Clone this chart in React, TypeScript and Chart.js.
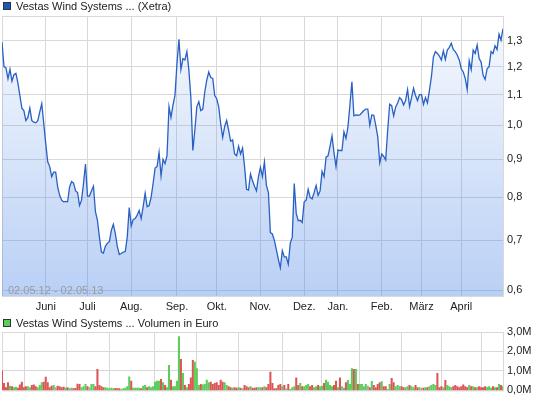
import React, { useEffect, useRef } from 'react';
import { Chart, registerables } from 'chart.js';

Chart.register(...registerables);

// ---- data ----
const prices: number[] = [
  1.295, 1.20, 1.195, 1.155, 1.19, 1.147, 1.17, 1.175, 1.14, 1.097,
  1.055, 1.047, 1.015, 1.025, 1.055, 1.015, 1.01, 1.008, 1.015, 1.043,
  1.07, 1.006, 0.945, 0.893, 0.88, 0.853, 0.865, 0.865, 0.826, 0.805,
  0.793, 0.789, 0.79, 0.789, 0.826, 0.84, 0.836, 0.816, 0.812, 0.78,
  0.793, 0.835, 0.887, 0.803, 0.803, 0.816, 0.828, 0.765, 0.745, 0.707,
  0.675, 0.673, 0.687, 0.694, 0.697, 0.722, 0.736, 0.715, 0.687, 0.670,
  0.672, 0.675, 0.676, 0.707, 0.775, 0.732, 0.747, 0.749, 0.757, 0.768,
  0.749, 0.777, 0.81, 0.777, 0.78, 0.80, 0.835, 0.876, 0.88, 0.92,
  0.855, 0.90, 0.888, 0.91, 1.06, 1.025, 1.065, 1.097, 1.21, 1.306,
  1.189, 1.23, 1.225, 1.257, 1.187, 1.09, 0.925, 0.985, 1.06, 1.076,
  1.047, 1.052, 1.11, 1.151, 1.18, 1.16, 1.157, 1.097, 1.086, 1.06,
  1.005, 0.963, 0.997, 1.015, 0.985, 0.952, 0.956, 0.915, 0.91, 0.937,
  0.915, 0.932, 0.88, 0.82, 0.818, 0.86, 0.842, 0.828, 0.816, 0.853,
  0.878, 0.853, 0.893, 0.83, 0.812, 0.717, 0.714, 0.70, 0.68, 0.66,
  0.643, 0.678, 0.665, 0.665, 0.65, 0.694, 0.707, 0.835, 0.761, 0.744,
  0.745, 0.74, 0.789, 0.793, 0.82, 0.80, 0.796, 0.812, 0.83, 0.805,
  0.816, 0.867, 0.853, 0.906, 0.91, 0.937, 0.968, 0.918, 0.88, 0.927,
  0.925, 0.925, 0.98, 0.96, 0.995, 1.065, 1.145, 1.03, 1.033, 1.032,
  1.033, 1.04, 1.047, 1.052, 1.052, 1.0, 1.033, 1.032, 1.0, 0.965,
  0.89, 0.915, 0.908, 0.898, 0.985, 1.068, 1.063, 1.03, 1.058, 1.072,
  1.09, 1.083, 1.065, 1.08, 1.117, 1.06, 1.09, 1.122, 1.097, 1.08,
  1.10, 1.10, 1.067, 1.09, 1.072, 1.115, 1.163, 1.237, 1.257, 1.25,
  1.24, 1.225, 1.26, 1.227, 1.263, 1.274, 1.29, 1.265, 1.257, 1.243,
  1.225, 1.192, 1.18, 1.157, 1.117, 1.222, 1.189, 1.263, 1.25, 1.283,
  1.23, 1.217, 1.168, 1.153, 1.192, 1.20, 1.257, 1.25, 1.28, 1.265,
  1.327, 1.303, 1.35,
];

// volume in millions of euro
const volumes: number[] = [
  1.0, 0.36, 0.14, 0.40, 0.22, 0.19, 0.15, 0.17, 0.12, 0.29,
  0.43, 0.14, 0.19, 0.19, 0.14, 0.26, 0.29, 0.19, 0.14, 0.26,
  0.40, 0.43, 0.69, 0.40, 0.14, 0.22, 0.26, 0.15, 0.22, 0.19,
  0.14, 0.17, 0.12, 0.15, 0.09, 0.12, 0.09, 0.10, 0.33, 0.31,
  0.15, 0.19, 0.31, 0.19, 0.15, 0.31, 0.31, 0.19, 1.08, 0.26,
  0.19, 0.14, 0.15, 0.12, 0.09, 0.12, 0.09, 0.10, 0.09, 0.09,
  0.05, 0.09, 0.12, 0.19, 0.70, 0.48, 0.12, 0.12, 0.12, 0.12,
  0.09, 0.22, 0.26, 0.14, 0.19, 0.14, 0.19, 0.43, 0.48, 0.48,
  0.57, 0.40, 0.26, 0.14, 1.29, 0.53, 0.19, 0.19, 0.48, 2.77,
  1.60, 0.88, 0.26, 0.14, 0.31, 0.65, 1.55, 1.46, 1.12, 0.26,
  0.31, 0.28, 0.31, 0.53, 0.40, 0.43, 0.31, 0.36, 0.40, 0.26,
  0.53, 0.43, 0.40, 0.26, 0.19, 0.14, 0.12, 0.15, 0.12, 0.15,
  0.12, 0.09, 0.26, 0.19, 0.15, 0.19, 0.12, 0.12, 0.14, 0.15,
  0.14, 0.15, 0.19, 0.14, 0.31, 0.94,
  0.36, 0.09, 0.09, 0.26, 0.31, 0.19, 0.26, 0.09, 0.31, 0.05,
  0.14, 0.19, 0.65, 0.26, 0.36, 0.19, 0.19, 0.26, 0.31, 0.19,
  0.26, 0.14, 0.19, 0.26, 0.19, 0.22, 0.36, 0.53, 0.43, 0.26,
  0.19, 0.26, 0.48, 0.14, 0.65, 0.19, 0.12, 0.40, 0.52, 0.31,
  1.12, 1.08, 1.08, 0.31, 0.31, 0.31, 0.19, 0.31, 0.22, 0.14,
  0.46, 0.26, 0.14, 0.31, 0.40, 0.45, 0.19, 0.19, 0.05, 0.31,
  0.62, 0.40, 0.19, 0.26, 0.19, 0.19, 0.14, 0.14, 0.19, 0.26,
  0.19, 0.14, 0.26, 0.14, 0.14, 0.12, 0.12, 0.14, 0.15, 0.19,
  0.26, 0.31, 0.26, 0.88, 0.14, 0.19, 0.14, 0.52, 0.26, 0.19,
  0.15, 0.19, 0.26, 0.19, 0.15, 0.19, 0.29, 0.19, 0.14, 0.26,
  0.19, 0.19, 0.14, 0.14, 0.19, 0.14, 0.15, 0.19, 0.14, 0.19,
  0.12, 0.19, 0.15, 0.14, 0.31, 0.26, 0.19,
];

const monthLabels = ['Juni', 'Juli', 'Aug.', 'Sep.', 'Okt.', 'Nov.', 'Dez.', 'Jan.', 'Feb.', 'März', 'April'];
const monthStart = [22, 43, 65, 88, 108, 130, 152, 169, 191, 211, 231];
const priceTicks = [0.6, 0.7, 0.8, 0.9, 1.0, 1.1, 1.2, 1.3];
const volumeTicks = [0, 1, 2, 3];
const periodText = '02.05.12 - 02.05.13';
const priceLegend = 'Vestas Wind Systems ... (Xetra)';
const volumeLegend = 'Vestas Wind Systems ... Volumen in Euro';

// ---- styles ----
const FONT = 'Arial, "Liberation Sans", sans-serif';
const GRID = '#d9d9d9';
const TEXT = '#222222';
const AXIS_W = 42;

const fmt = (v: number) => v.toFixed(1).replace('.', ',');

function decorPlugin(legendText: string, legendColor: string, legendTop: number, withPeriod: boolean) {
  return {
    id: 'decor',
    beforeDatasetsDraw(chart: any) {
      const { ctx, chartArea: a } = chart;
      ctx.save();
      ctx.strokeStyle = GRID;
      ctx.lineWidth = 1;
      ctx.strokeRect(a.left + 0.5, a.top + 0.5, a.right - a.left, a.bottom - a.top);
      ctx.restore();
    },
    afterDraw(chart: any) {
      const { ctx, chartArea: a } = chart;
      ctx.save();
      ctx.fillStyle = legendColor;
      ctx.fillRect(3, legendTop, 8, 8);
      ctx.strokeStyle = '#333333';
      ctx.lineWidth = 1;
      ctx.strokeRect(3.5, legendTop + 0.5, 7, 7);
      ctx.font = `11px ${FONT}`;
      ctx.fillStyle = TEXT;
      ctx.textBaseline = 'alphabetic';
      ctx.fillText(legendText, 16, legendTop + 8);
      if (withPeriod) {
        ctx.fillStyle = '#9c9c9c';
        ctx.fillText(periodText, 8, a.bottom - 2);
      }
      ctx.restore();
    },
  };
}

export default function App() {
  const priceRef = useRef<HTMLCanvasElement>(null);
  const volRef = useRef<HTMLCanvasElement>(null);

  useEffect(() => {
    const xs = prices.map((_, i) => i);
    const lastIdx = prices.length - 1;

    const xScaleBase = (showLabels: boolean, height: number) => ({
      type: 'linear' as const,
      min: 0,
      max: lastIdx,
      offset: false,
      afterBuildTicks: (s: any) => {
        s.ticks = monthStart.map((v) => ({ value: v }));
      },
      afterFit: (s: any) => {
        s.height = height;
      },
      grid: { color: GRID, drawTicks: false },
      border: { display: false },
      ticks: {
        display: showLabels,
        autoSkip: false,
        maxRotation: 0,
        padding: 4,
        color: TEXT,
        font: { size: 11, family: FONT },
        callback: (_v: any, i: number) => monthLabels[i],
      },
    });

    const priceChart = new Chart(priceRef.current!, {
      type: 'line',
      data: {
        datasets: [
          {
            data: xs.map((x) => ({ x, y: prices[x] })),
            borderColor: '#2860c4',
            borderWidth: 1.3,
            pointRadius: 0,
            tension: 0,
            fill: 'start',
            backgroundColor: (c: any) => {
              const a = c.chart.chartArea;
              if (!a) return 'rgba(70,130,230,0.2)';
              const g = c.chart.ctx.createLinearGradient(0, a.top, 0, a.bottom);
              g.addColorStop(0, 'rgba(70,130,230,0.04)');
              g.addColorStop(1, 'rgba(70,130,230,0.38)');
              return g;
            },
          },
        ],
      },
      options: {
        animation: false,
        responsive: false,
        maintainAspectRatio: false,
        layout: { padding: { left: 2, top: 16, right: 0, bottom: 0 } },
        plugins: { legend: { display: false }, tooltip: { enabled: false } },
        scales: {
          x: xScaleBase(true, 16) as any,
          y: {
            type: 'logarithmic',
            position: 'right',
            min: 0.589,
            max: 1.404,
            afterBuildTicks: (s: any) => {
              s.ticks = priceTicks.map((v) => ({ value: v }));
            },
            afterFit: (s: any) => {
              s.width = AXIS_W;
            },
            grid: { color: GRID, drawTicks: false },
            border: { display: false },
            ticks: {
              padding: 4,
              color: TEXT,
              font: { size: 11, family: FONT },
              callback: (v: any) => fmt(Number(v)),
            },
          } as any,
        },
      },
      plugins: [decorPlugin(priceLegend, '#1f56c0', 2, true)],
    });

    const barColors = volumes.map((_, i) => {
      if (i === 0) return '#dc5656';
      const d = prices[i] - prices[i - 1];
      if (d > 0) return '#5ccc5c';
      if (d < 0) return '#dc5656';
      return '#a8a8a8';
    });

    const volChart = new Chart(volRef.current!, {
      type: 'bar',
      data: {
        datasets: [
          {
            data: xs.map((x) => ({ x, y: volumes[x] })),
            backgroundColor: barColors,
            barThickness: 1.4,
            borderWidth: 0,
          },
        ],
      },
      options: {
        animation: false,
        responsive: false,
        maintainAspectRatio: false,
        layout: { padding: { left: 2, top: 20, right: 0, bottom: 0 } },
        plugins: { legend: { display: false }, tooltip: { enabled: false } },
        scales: {
          x: xScaleBase(false, 10) as any,
          y: {
            type: 'linear',
            position: 'right',
            min: 0,
            max: 3,
            afterBuildTicks: (s: any) => {
              s.ticks = volumeTicks.map((v) => ({ value: v }));
            },
            afterFit: (s: any) => {
              s.width = AXIS_W;
            },
            grid: { color: GRID, drawTicks: false },
            border: { display: false },
            ticks: {
              padding: 4,
              color: TEXT,
              font: { size: 11, family: FONT },
              callback: (v: any) => fmt(Number(v)) + 'M',
            },
          } as any,
        },
      },
      plugins: [decorPlugin(volumeLegend, '#5ccc5c', 7, false)],
    });

    return () => {
      priceChart.destroy();
      volChart.destroy();
    };
  }, []);

  return (
    <div style={{ position: 'absolute', left: 0, top: 0, width: 545, height: 401, background: '#ffffff' }}>
      <canvas
        ref={priceRef}
        width={545}
        height={312}
        style={{ position: 'absolute', left: 0, top: 0, width: 545, height: 312 }}
      />
      <canvas
        ref={volRef}
        width={545}
        height={89}
        style={{ position: 'absolute', left: 0, top: 312, width: 545, height: 89 }}
      />
    </div>
  );
}
